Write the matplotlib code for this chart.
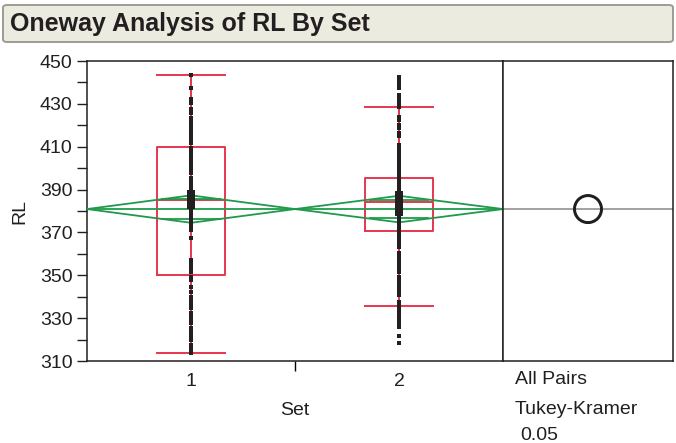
import numpy as np
import matplotlib.pyplot as plt
from matplotlib.patches import FancyBboxPatch, Circle, Polygon

plt.rcParams['font.family'] = ['Liberation Sans', 'DejaVu Sans']

# RL values per Set
set_positions = [1, 2]
set_labels = ['1', '2']

rl_set1 = [443.6, 437.3, 432.5, 430.5, 427.8, 425.7, 423.2, 421.8,
           420.0, 418.5, 417.1, 415.4, 413.6, 411.7,
           409.2, 407.4, 405.6, 403.8, 402.0, 400.2, 398.5, 397.7,
           395.2, 393.5, 391.8, 390.0, 388.4,
           381.2, 379.8, 378.3, 376.8, 375.3, 373.8, 372.7, 371.1, 367.3,
           357.0, 355.6, 354.0, 352.5, 351.7, 349.3, 347.8, 344.6, 342.4,
           340.0, 338.2, 336.4, 334.6, 332.3, 330.5, 328.8, 327.6,
           325.3, 323.5, 321.7, 319.9, 317.5, 315.6, 313.7]
rl_set2 = [442.3, 440.5, 439.2, 437.4, 434.0, 432.3, 430.5, 428.7,
           424.0, 422.6, 420.0, 418.7, 416.3, 414.8,
           410.7, 409.0, 407.3, 405.6, 403.9, 402.2, 400.7, 399.0, 397.2,
           395.5, 393.8, 392.1, 390.4, 388.7,
           378.2, 376.6, 375.0, 373.4, 371.8, 370.3,
           368.8, 367.0, 365.2, 363.4,
           360.3, 358.5, 356.7, 354.9, 353.1, 351.7,
           349.3, 347.5, 345.7, 343.9, 342.1, 340.8,
           337.7, 335.9, 334.1, 332.3, 330.5, 328.7, 326.9, 326.0,
           321.6, 318.5]
# heavily overlapping values near the centre of each set
rl_set1_core = [388.0, 387.0, 386.0, 385.0, 384.0, 383.0]
rl_set2_core = [387.5, 386.5, 385.5, 384.5, 383.5, 382.5, 381.5, 380.5, 379.7]

# quantile box summary
box_q1 = [350.0, 370.7]
box_median = [385.0, 384.2]
box_q3 = [410.0, 395.3]
whisker_lo = [313.7, 335.7]
whisker_hi = [443.6, 428.6]

# means diamonds (mean and 95% half-width)
group_mean = [380.9, 380.9]
mean_ci = [6.4, 6.2]
grand_mean = 380.9

red = '#e6364e'
green = '#1f9a4a'
ink = '#231f20'

fig = plt.figure(figsize=(6.76, 4.43), dpi=100)

# header bar
fig.patches.append(FancyBboxPatch((3 / 676, 1 - 42 / 443), 670 / 676, 37 / 443,
                                  boxstyle='round,pad=0,rounding_size=0.006',
                                  transform=fig.transFigure, facecolor='#ecebdf',
                                  edgecolor='#9d9c92', linewidth=1.4))
fig.text(10 / 676, 1 - 24 / 443, 'Oneway Analysis of RL By Set', fontsize=18,
         fontweight='bold', color=ink, va='center', ha='left')

ax_l, ax_b, ax_h = 87 / 676, 1 - 361 / 443, 300 / 443
ax = fig.add_axes([ax_l, ax_b, 416 / 676, ax_h])
ax2 = fig.add_axes([503 / 676, ax_b, 170 / 676, ax_h])

box_w = 0.33
stats = []
for i in range(len(set_positions)):
    stats.append({'q1': box_q1[i], 'med': box_median[i], 'q3': box_q3[i],
                  'whislo': whisker_lo[i], 'whishi': whisker_hi[i], 'fliers': []})
line_props = {'color': red, 'linewidth': 1.4}
ax.bxp(stats, positions=set_positions, widths=box_w, capwidths=box_w,
       boxprops=line_props, whiskerprops=line_props, capprops=line_props,
       medianprops=line_props, showfliers=False, manage_ticks=False, zorder=2)
for x, lo, hi in zip(set_positions, whisker_lo, whisker_hi):
    ax.vlines(x, lo, hi, color=red, linewidth=1.4, zorder=2)

# means diamonds with overlap marks
for x, m, ci in zip(set_positions, group_mean, mean_ci):
    ax.add_patch(Polygon([[x - 0.5, m], [x, m + ci], [x + 0.5, m], [x, m - ci]],
                         closed=True, fill=False, edgecolor=green, linewidth=1.3, zorder=3))
    ax.hlines(m, x - 0.5, x + 0.5, color=green, linewidth=1.3, zorder=3)
    half = 0.5 * (1 - 1 / np.sqrt(2))
    ax.hlines([m + ci / np.sqrt(2), m - ci / np.sqrt(2)], x - half, x + half,
              color=green, linewidth=1.3, zorder=3)

for x, vals, core in zip(set_positions, [rl_set1, rl_set2], [rl_set1_core, rl_set2_core]):
    ax.plot([x] * len(vals), vals, 's', color=ink, markersize=3.5, markeredgewidth=0, zorder=4)
    ax.plot([x] * len(core), core, 's', color=ink, markersize=6.0, markeredgewidth=0, zorder=4)

ax.set_xlim(0.5, 2.5)
ax.set_ylim(310, 450)
ax.set_yticks(np.arange(310, 451, 20))
ax.set_yticks(np.arange(320, 441, 20), minor=True)
ax.set_xticks(set_positions)
ax.set_xticklabels(set_labels)
ax.set_xticks([1.5], minor=True)
ax.tick_params(axis='y', which='both', direction='out', length=7, width=1, labelsize=14, colors=ink)
ax.tick_params(axis='x', which='major', length=0, pad=9, labelsize=14, colors=ink)
ax.tick_params(axis='x', which='minor', direction='out', length=7, width=1)
ax.set_xlabel('Set', fontsize=14, color=ink, labelpad=8)
ax.set_ylabel('RL', fontsize=14, color=ink, labelpad=8)

# comparison circles panel
px_per_unit = ax_h * 443 / (450 - 310)
x_span = 170 / px_per_unit
ax2.set_xlim(0, x_span)
ax2.set_ylim(310, 450)
ax2.axhline(grand_mean, color='#9a9a9a', linewidth=1.3, zorder=1)
for m, ci in zip(group_mean, mean_ci):
    ax2.add_patch(Circle((x_span / 2, m), ci, fill=False, edgecolor=ink, linewidth=1.8, zorder=2))
ax2.set_xticks([])
ax2.set_yticks([])

for a in (ax, ax2):
    for s in a.spines.values():
        s.set_color(ink)
        s.set_linewidth(1.1)

fig.text(515 / 676, 1 - 380 / 443, 'All Pairs', fontsize=14, color=ink, va='center')
fig.text(515 / 676, 1 - 409 / 443, 'Tukey-Kramer', fontsize=14, color=ink, va='center')
fig.text(520 / 676, 1 - 436 / 443, '0.05', fontsize=14, color=ink, va='center')

fig.savefig('out.png', dpi=100)
